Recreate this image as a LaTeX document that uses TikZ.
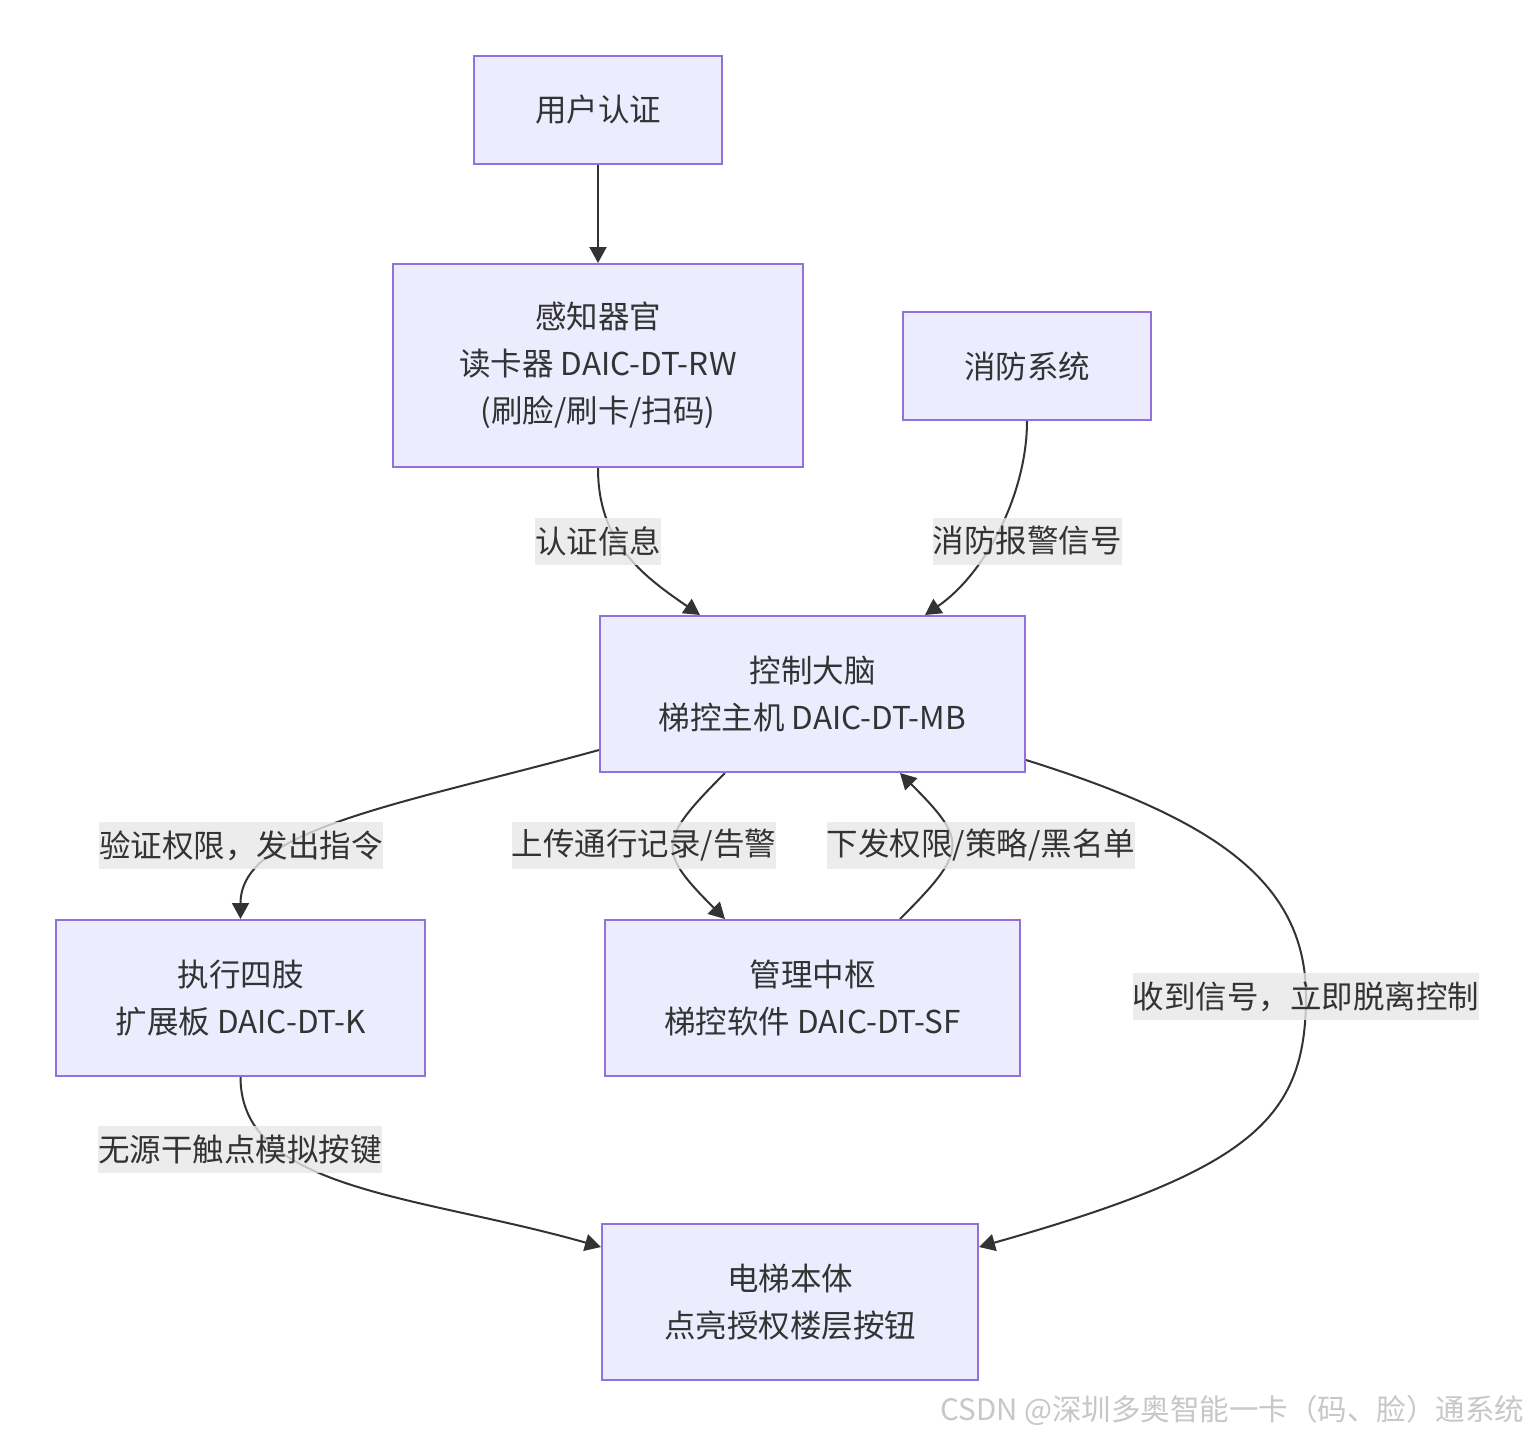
\documentclass[tikz,border=0pt]{standalone}
\usepackage{fontspec}
\setmainfont{Noto Sans CJK SC}
\usetikzlibrary{arrows.meta,backgrounds}
\definecolor{boxfill}{HTML}{ECECFF}
\definecolor{boxline}{HTML}{9370DB}
\definecolor{ink}{HTML}{333333}
\definecolor{lblfill}{HTML}{E8E8E8}

\begin{document}
\begin{tikzpicture}[x=1pt,y=-1pt,
    font=\fontsize{31.5}{47}\selectfont, text=ink,
    box/.style={rectangle,draw=boxline,fill=boxfill,line width=2pt,align=center,inner sep=0pt},
    lbl/.style={fill=lblfill,fill opacity=0.8,text opacity=1,inner sep=0pt,minimum height=47pt},
    arr/.style={draw=ink,line width=2pt,-{Triangle[length=16pt,width=17pt]}}]

      \useasboundingbox (0,0) rectangle (1532,1436);

      \begin{scope}[every node/.style={box}]
        \node[minimum width=248pt,minimum height=108pt] (1) at (598,110)    {用户认证};
        \node[minimum width=410pt,minimum height=203pt] (2) at (598,365.5)  {感知器官\\读卡器 DAIC-DT-RW\\(刷脸/刷卡/扫码)};
        \node[minimum width=248pt,minimum height=108pt] (3) at (1027,366)   {消防系统};
        \node[minimum width=425pt,minimum height=156pt] (4) at (812.5,694)  {控制大脑\\梯控主机 DAIC-DT-MB};
        \node[minimum width=369pt,minimum height=156pt] (5) at (240.5,998)  {执行四肢\\扩展板 DAIC-DT-K};
        \node[minimum width=415pt,minimum height=156pt] (6) at (812.5,998)  {管理中枢\\梯控软件 DAIC-DT-SF};
        \node[minimum width=376pt,minimum height=156pt] (7) at (790,1302)   {电梯本体\\点亮授权楼层按钮};
      \end{scope}

      \begin{scope}[every node/.style={lbl}]
        \node (a) at (598,541)     {认证信息};
        \node (b) at (1027,541)    {消防报警信号};
        \node (c) at (241,845.5)   {验证权限，发出指令};
        \node (d) at (644,845.5)   {上传通行记录/告警};
        \node (e) at (981,845.5)   {下发权限/策略/黑名单};
        \node (f) at (1306,996.5)  {收到信号，立即脱离控制};
        \node (g) at (240,1149.5)  {无源干触点模拟按键};
      \end{scope}

      \begin{scope}[on background layer]
        \fill[white] (0,0) rectangle (1532,1436);
        \draw[arr] (1) -- (2);
        \draw[arr] (2.south) .. controls +(0,73) and +(-60,-41) .. ([xshift=-112.5pt]4.north);
        \draw[arr] (3.south) .. controls +(0,73) and +(60,-41) .. ([xshift=112.5pt]4.north);
        \draw[arr] ([yshift=-56pt]4.west) .. controls +(-200,55) and +(0,-90) .. (5.north);
        \draw[arr] ([xshift=-87.5pt]4.south) .. controls +(-68,68) and +(-68,-68) .. ([xshift=-87.5pt]6.north);
        \draw[arr] ([xshift=87.5pt]6.north) .. controls +(68,-68) and +(68,68) .. ([xshift=87.5pt]4.south);
        \draw[arr] ([yshift=-66pt]4.east) .. controls +(185,58) and +(0,-117) .. (f.center)
                   .. controls +(0,123) and +(272,-77) .. ([yshift=55pt]7.east);
        \draw[arr] (5.south) .. controls +(0,114) and +(-182,-52) .. ([yshift=55pt]7.west);
      \end{scope}

      \node[anchor=east,text=black!22,font=\fontsize{29.5}{32}\selectfont] (w) at (1528,1410) {CSDN @深圳多奥智能一卡（码、脸）通系统};

    \end{tikzpicture}
\end{document}
